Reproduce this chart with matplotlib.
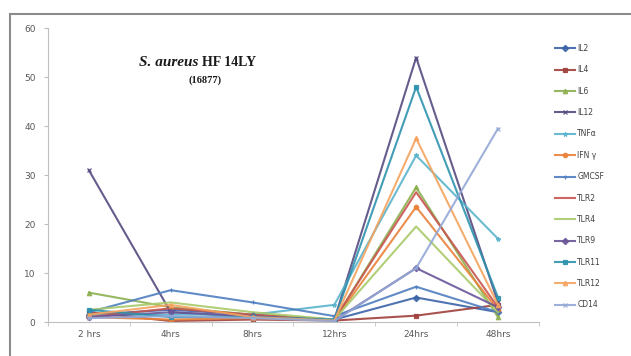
import matplotlib
matplotlib.use("Agg")
import matplotlib.pyplot as plt
from matplotlib.lines import Line2D
import numpy as np

categories = ["2 hrs", "4hrs", "8hrs", "12hrs", "24hrs", "48hrs"]

IL2 = [1.5, 2.5, 1.5, 0.5, 5.0, 2.0]
IL4 = [2.0, 0.2, 0.5, 0.3, 1.3, 3.5]
IL6 = [6.0, 3.0, 1.5, 0.3, 27.5, 1.0]
IL12 = [31.0, 2.0, 1.0, 0.5, 54.0, 4.0]
TNFa = [1.5, 1.5, 1.5, 3.5, 34.0, 17.0]
IFNg = [1.0, 0.5, 0.8, 0.3, 23.5, 2.5]
GMCSF = [2.0, 6.5, 4.0, 1.2, 7.2, 2.0]
TLR2 = [1.0, 2.8, 1.5, 0.5, 26.5, 3.0]
TLR4 = [2.5, 4.0, 2.0, 0.5, 19.5, 2.0]
TLR9 = [1.0, 2.0, 1.2, 0.3, 11.0, 3.0]
TLR11 = [2.5, 1.0, 1.0, 0.5, 48.0, 5.0]
TLR12 = [1.5, 3.5, 1.0, 0.3, 37.5, 3.5]
CD14 = [0.8, 1.2, 0.8, 0.2, 11.0, 39.5]

series = [
    ("IL2", IL2, "#3B64A8", "D"),
    ("IL4", IL4, "#A0403C", "s"),
    ("IL6", IL6, "#8DB050", "^"),
    ("IL12", IL12, "#564A80", "x"),
    ("TNF\u03b1", TNFa, "#5AB4CC", "*"),
    ("IFN \u03b3", IFNg, "#E9823A", "o"),
    ("GMCSF", GMCSF, "#4F7EC0", "+"),
    ("TLR2", TLR2, "#C85450", None),
    ("TLR4", TLR4, "#A9C96A", None),
    ("TLR9", TLR9, "#6A5699", "D"),
    ("TLR11", TLR11, "#2E92AE", "s"),
    ("TLR12", TLR12, "#F4A45F", "^"),
    ("CD14", CD14, "#94A8D6", "x"),
]

fig = plt.figure(figsize=(6.31, 3.56), dpi=100)
ax = fig.add_axes([0.076, 0.0955, 0.778, 0.8255])

x = np.arange(len(categories))
handles = []
for name, vals, color, mk in series:
    (ln,) = ax.plot(x, vals, color=color, lw=1.5, marker=mk, markersize=3.2,
                    markeredgewidth=0.9, label=name, alpha=0.9)
    handles.append(ln)

ax.set_xlim(-0.5, len(categories) - 0.5)
ax.set_ylim(0, 60)
ax.set_yticks(range(0, 61, 10))
ax.set_xticks(x)
ax.set_xticklabels(categories)
ax.set_xticks(np.arange(-0.5, len(categories), 1), minor=True)
ax.tick_params(axis="x", which="major", length=0, colors="#595959", labelsize=6.5, pad=6)
ax.tick_params(axis="x", which="minor", length=3, color="#BFBFBF")
ax.tick_params(axis="y", length=3, color="#BFBFBF", colors="#595959", labelsize=6.5, pad=6)
for side in ("top", "right"):
    ax.spines[side].set_visible(False)
for side in ("left", "bottom"):
    ax.spines[side].set_color("#BFBFBF")
    ax.spines[side].set_linewidth(0.8)

# chart title: italic species name followed by the strain
t1 = fig.text(139 / 631, 1 - 63 / 356, "S. aureus ", ha="left", va="center",
              fontsize=11, family="Liberation Serif", style="italic",
              fontweight="bold", color="#1a1a1a")
ax.annotate("HF 14LY", xy=(1, 0.5), xycoords=t1, ha="left", va="center",
            fontsize=10, family="Liberation Serif", fontweight="bold",
            color="#1a1a1a", annotation_clip=False)
fig.text(205 / 631, 1 - 80 / 356, "(16877)", ha="center", va="center",
         fontsize=7.5, family="Liberation Serif", fontweight="bold", color="#1a1a1a")

leg = fig.legend(handles=handles, loc="upper left", bbox_to_anchor=(0.875, 0.885),
                 frameon=False, fontsize=5.5, labelspacing=1.62, handlelength=2.6,
                 handletextpad=0.3, borderaxespad=0)
for t in leg.get_texts():
    t.set_color("#404040")

# outer chart frame
fig.add_artist(Line2D([10 / 631, 1.0], [1 - 14 / 356, 1 - 14 / 356],
                      transform=fig.transFigure, color="#8C8C8C", lw=1.5))
fig.add_artist(Line2D([10 / 631, 10 / 631], [0.0, 1 - 14 / 356],
                      transform=fig.transFigure, color="#8C8C8C", lw=1.5))

fig.savefig("out.png", dpi=100)
